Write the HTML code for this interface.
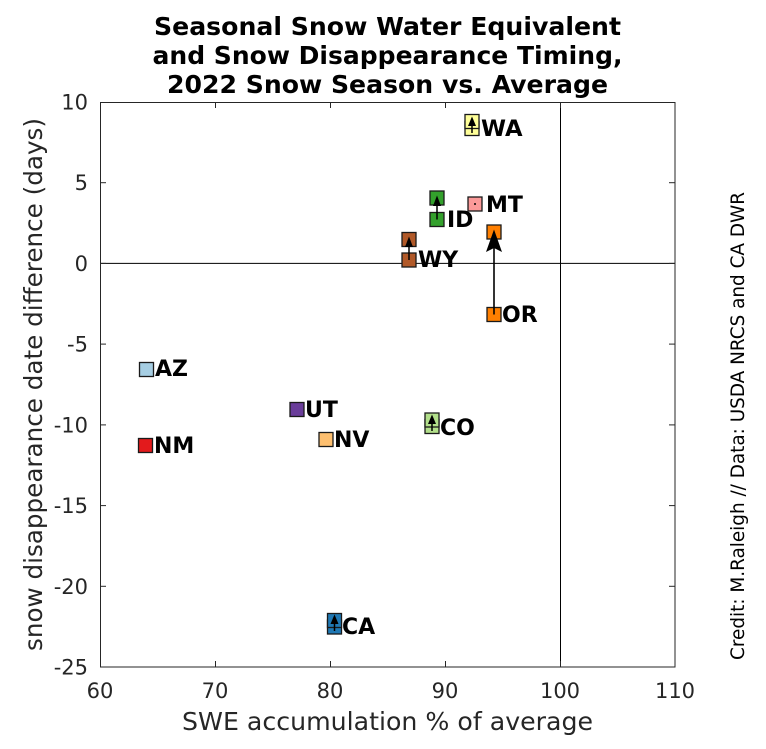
<!DOCTYPE html>
<html>
<head>
<meta charset="utf-8">
<style>
  html, body { margin:0; padding:0; background:#ffffff; }
  svg { display:block; }
  .tick { font-family:"DejaVu Sans","Liberation Sans",sans-serif; font-size:21px; fill:#262626; }
  .lab { font-family:"DejaVu Sans","Liberation Sans",sans-serif; font-size:24.6px; fill:#262626; }
  .title { font-family:"DejaVu Sans","Liberation Sans",sans-serif; font-size:25px; font-weight:bold; fill:#000; }
  .st { font-family:"DejaVu Sans","Liberation Sans",sans-serif; font-size:22px; font-weight:bold; fill:#000; }
  .cred { font-family:"DejaVu Sans","Liberation Sans",sans-serif; font-size:18.3px; fill:#000; }
  .box { stroke:#1a1a1a; stroke-width:1.3; }
</style>
</head>
<body>
<svg width="766" height="749" viewBox="0 0 766 749" xmlns="http://www.w3.org/2000/svg">
  <rect x="0" y="0" width="766" height="749" fill="#ffffff"/>

  <!-- Title -->
  <text class="title" x="387.5" y="35" text-anchor="middle" textLength="467" lengthAdjust="spacingAndGlyphs">Seasonal Snow Water Equivalent</text>
  <text class="title" x="387.5" y="64" text-anchor="middle" textLength="470" lengthAdjust="spacingAndGlyphs">and Snow Disappearance Timing,</text>
  <text class="title" x="387.5" y="93" text-anchor="middle" textLength="441" lengthAdjust="spacingAndGlyphs">2022 Snow Season vs. Average</text>

  <!-- Reference lines -->
  <line x1="100" y1="263.4" x2="675" y2="263.4" stroke="#000" stroke-width="1"/>
  <line x1="560.5" y1="102" x2="560.5" y2="667" stroke="#000" stroke-width="1"/>

  <!-- Axes box -->
  <rect x="100.5" y="102.5" width="574.5" height="564.5" fill="none" stroke="#262626" stroke-width="1"/>

  <!-- X ticks -->
  <g stroke="#262626" stroke-width="1">
    <line x1="215.5" y1="667" x2="215.5" y2="661"/><line x1="215.5" y1="102" x2="215.5" y2="108"/>
    <line x1="330.5" y1="667" x2="330.5" y2="661"/><line x1="330.5" y1="102" x2="330.5" y2="108"/>
    <line x1="445.5" y1="667" x2="445.5" y2="661"/><line x1="445.5" y1="102" x2="445.5" y2="108"/>
    <line x1="560.5" y1="667" x2="560.5" y2="661"/><line x1="560.5" y1="102" x2="560.5" y2="108"/>
    <!-- Y ticks -->
    <line x1="100" y1="182.7" x2="106" y2="182.7"/><line x1="675" y1="182.7" x2="669" y2="182.7"/>
    <line x1="100" y1="263.4" x2="106" y2="263.4"/><line x1="675" y1="263.4" x2="669" y2="263.4"/>
    <line x1="100" y1="344.1" x2="106" y2="344.1"/><line x1="675" y1="344.1" x2="669" y2="344.1"/>
    <line x1="100" y1="424.9" x2="106" y2="424.9"/><line x1="675" y1="424.9" x2="669" y2="424.9"/>
    <line x1="100" y1="505.6" x2="106" y2="505.6"/><line x1="675" y1="505.6" x2="669" y2="505.6"/>
    <line x1="100" y1="586.3" x2="106" y2="586.3"/><line x1="675" y1="586.3" x2="669" y2="586.3"/>
  </g>

  <!-- X tick labels -->
  <g class="tick" text-anchor="middle">
    <text x="100" y="698">60</text>
    <text x="215" y="698">70</text>
    <text x="330" y="698">80</text>
    <text x="445" y="698">90</text>
    <text x="560" y="698">100</text>
    <text x="675" y="698">110</text>
  </g>
  <!-- Y tick labels -->
  <g class="tick" text-anchor="end">
    <text x="88" y="109.5">10</text>
    <text x="88" y="190.2">5</text>
    <text x="88" y="270.9">0</text>
    <text x="88" y="351.6">-5</text>
    <text x="88" y="432.4">-10</text>
    <text x="88" y="513.1">-15</text>
    <text x="88" y="593.8">-20</text>
    <text x="88" y="674.5">-25</text>
  </g>

  <!-- Axis labels -->
  <text class="lab" x="387.5" y="730" text-anchor="middle" textLength="411" lengthAdjust="spacingAndGlyphs">SWE accumulation % of average</text>
  <text class="lab" transform="translate(42,384.5) rotate(-90)" text-anchor="middle" textLength="533" lengthAdjust="spacingAndGlyphs">snow disappearance date difference (days)</text>

  <!-- Credit -->
  <text class="cred" transform="translate(744,426) rotate(-90)" text-anchor="middle" textLength="468" lengthAdjust="spacingAndGlyphs">Credit: M.Raleigh // Data: USDA NRCS and CA DWR</text>

  <!-- Markers -->
  <!-- AZ -->
  <rect class="box" x="139.5" y="362.5" width="14" height="14" fill="#a6cee3"/>
  <!-- NM -->
  <rect class="box" x="138.5" y="438.5" width="14" height="14" fill="#e31a1c"/>
  <!-- UT -->
  <rect class="box" x="290" y="402.5" width="14" height="14" fill="#6a3d9a"/>
  <!-- NV -->
  <rect class="box" x="319" y="432.5" width="14" height="14" fill="#fdbf6f"/>
  <!-- MT -->
  <rect class="box" x="468" y="197" width="14" height="14" fill="#fb9a99"/>
  <circle cx="475" cy="204" r="1" fill="#000"/>

  <!-- WA -->
  <rect class="box" x="465" y="121.5" width="14" height="14" fill="#ffff99"/>
  <rect class="box" x="465" y="114.5" width="14" height="14" fill="#ffff99"/>
  <line x1="472" y1="133" x2="472" y2="122" stroke="#000" stroke-width="1.5"/>
  <polygon points="472,116.5 468,126 476,126" fill="#000"/>

  <!-- CO -->
  <rect class="box" x="425" y="419.5" width="14" height="14" fill="#b2df8a"/>
  <rect class="box" x="425" y="413" width="14" height="14" fill="#b2df8a"/>
  <line x1="432" y1="431" x2="432" y2="420" stroke="#000" stroke-width="1.5"/>
  <polygon points="432,414.5 428,424 436,424" fill="#000"/>

  <!-- CA -->
  <rect class="box" x="327.5" y="620" width="14" height="14" fill="#1f78b4"/>
  <rect class="box" x="327.5" y="613.5" width="14" height="14" fill="#1f78b4"/>
  <line x1="334.5" y1="631" x2="334.5" y2="620" stroke="#000" stroke-width="1.5"/>
  <polygon points="334.5,614.5 330.5,624 338.5,624" fill="#000"/>

  <!-- ID -->
  <rect class="box" x="430" y="212.5" width="14" height="14" fill="#33a02c"/>
  <rect class="box" x="430" y="191" width="14" height="14" fill="#33a02c"/>
  <line x1="437" y1="219.5" x2="437" y2="202" stroke="#000" stroke-width="1.5"/>
  <polygon points="437,195.5 433,206 441,206" fill="#000"/>

  <!-- WY -->
  <rect class="box" x="402" y="253" width="14" height="14" fill="#b15928"/>
  <rect class="box" x="402" y="232.5" width="14" height="14" fill="#b15928"/>
  <line x1="409" y1="260" x2="409" y2="243" stroke="#000" stroke-width="1.5"/>
  <polygon points="409,236.5 405,247 413,247" fill="#000"/>

  <!-- OR -->
  <rect class="box" x="487" y="307.5" width="14" height="14" fill="#ff7f00"/>
  <rect class="box" x="487" y="225" width="14" height="14" fill="#ff7f00"/>
  <line x1="494" y1="314.5" x2="494" y2="245" stroke="#000" stroke-width="1.6"/>
  <polygon points="494,229.5 486,252 494,248 502,252" fill="#000"/>

  <!-- State labels -->
  <text class="st" x="481" y="136" textLength="41.6" lengthAdjust="spacingAndGlyphs">WA</text>
  <text class="st" x="486" y="212">MT</text>
  <text class="st" x="447" y="227">ID</text>
  <text class="st" x="418" y="267">WY</text>
  <text class="st" x="502" y="322">OR</text>
  <text class="st" x="155" y="376">AZ</text>
  <text class="st" x="154" y="453">NM</text>
  <text class="st" x="305" y="417">UT</text>
  <text class="st" x="334" y="447">NV</text>
  <text class="st" x="440" y="435">CO</text>
  <text class="st" x="342" y="634">CA</text>
</svg>
</body>
</html>
